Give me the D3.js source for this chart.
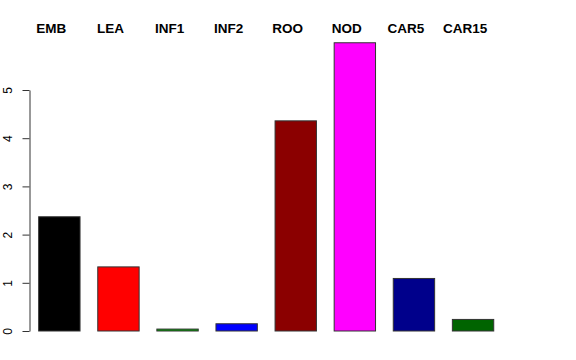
<!DOCTYPE html>
<html>
<head>
<meta charset="utf-8">
<script src="https://cdn.jsdelivr.net/npm/d3@7"></script>
<style>
  body { margin: 0; background: #fff; }
  svg { display: block; font-family: "Liberation Sans", Arial, sans-serif; }
</style>
</head>
<body>
<div id="chart"></div>
<script>
// values
const categories = ["EMB", "LEA", "INF1", "INF2", "ROO", "NOD", "CAR5", "CAR15"];
const values = [2.37, 1.33, 0.04, 0.15, 4.36, 5.98, 1.09, 0.24];
const barColors = ["#000000", "#ff0000", "#00a000", "#0000ff", "#8b0000", "#ff00ff", "#00008b", "#006400"];
const yTicks = [0, 1, 2, 3, 4, 5];

const width = 576, height = 360;

const svg = d3.select("#chart").append("svg")
  .attr("width", width)
  .attr("height", height);

const x = d3.scaleBand()
  .domain(categories)
  .range([29.8, 502.6])
  .paddingInner(0.3)
  .paddingOuter(0.15);

const y = d3.scaleLinear()
  .domain([0, 5])
  .range([331, 90]);

// bars
svg.append("g")
  .selectAll("rect")
  .data(values)
  .enter().append("rect")
  .attr("x", (d, i) => x(categories[i]))
  .attr("y", d => y(d))
  .attr("width", x.bandwidth())
  .attr("height", d => y(0) - y(d))
  .attr("fill", (d, i) => barColors[i])
  .attr("stroke", "#333")
  .attr("stroke-width", 1);

// y axis, R style: line only spans the ticks
const yAxis = svg.append("g")
  .attr("transform", "translate(29.5,0)")
  .call(d3.axisLeft(y).tickValues(yTicks).tickSize(7).tickSizeOuter(0).tickFormat(d3.format("d")));
yAxis.select(".domain").attr("stroke", "#333");
yAxis.selectAll(".tick line").attr("stroke", "#333");
yAxis.selectAll(".tick text")
  .attr("x", 0)
  .attr("dy", 0)
  .attr("transform", "translate(-17.5,0) rotate(-90)")
  .attr("text-anchor", "middle")
  .attr("font-size", 12)
  .attr("fill", "#000")
  .style("font-family", "Liberation Sans, Arial, sans-serif");

// category labels across the top
svg.append("g")
  .selectAll("text")
  .data(categories)
  .enter().append("text")
  .attr("x", d => x(d) + x.bandwidth() / 2 - 8)
  .attr("y", 33)
  .attr("text-anchor", "middle")
  .attr("font-size", 13.5)
  .attr("font-weight", "bold")
  .text(d => d);
</script>
</body>
</html>
